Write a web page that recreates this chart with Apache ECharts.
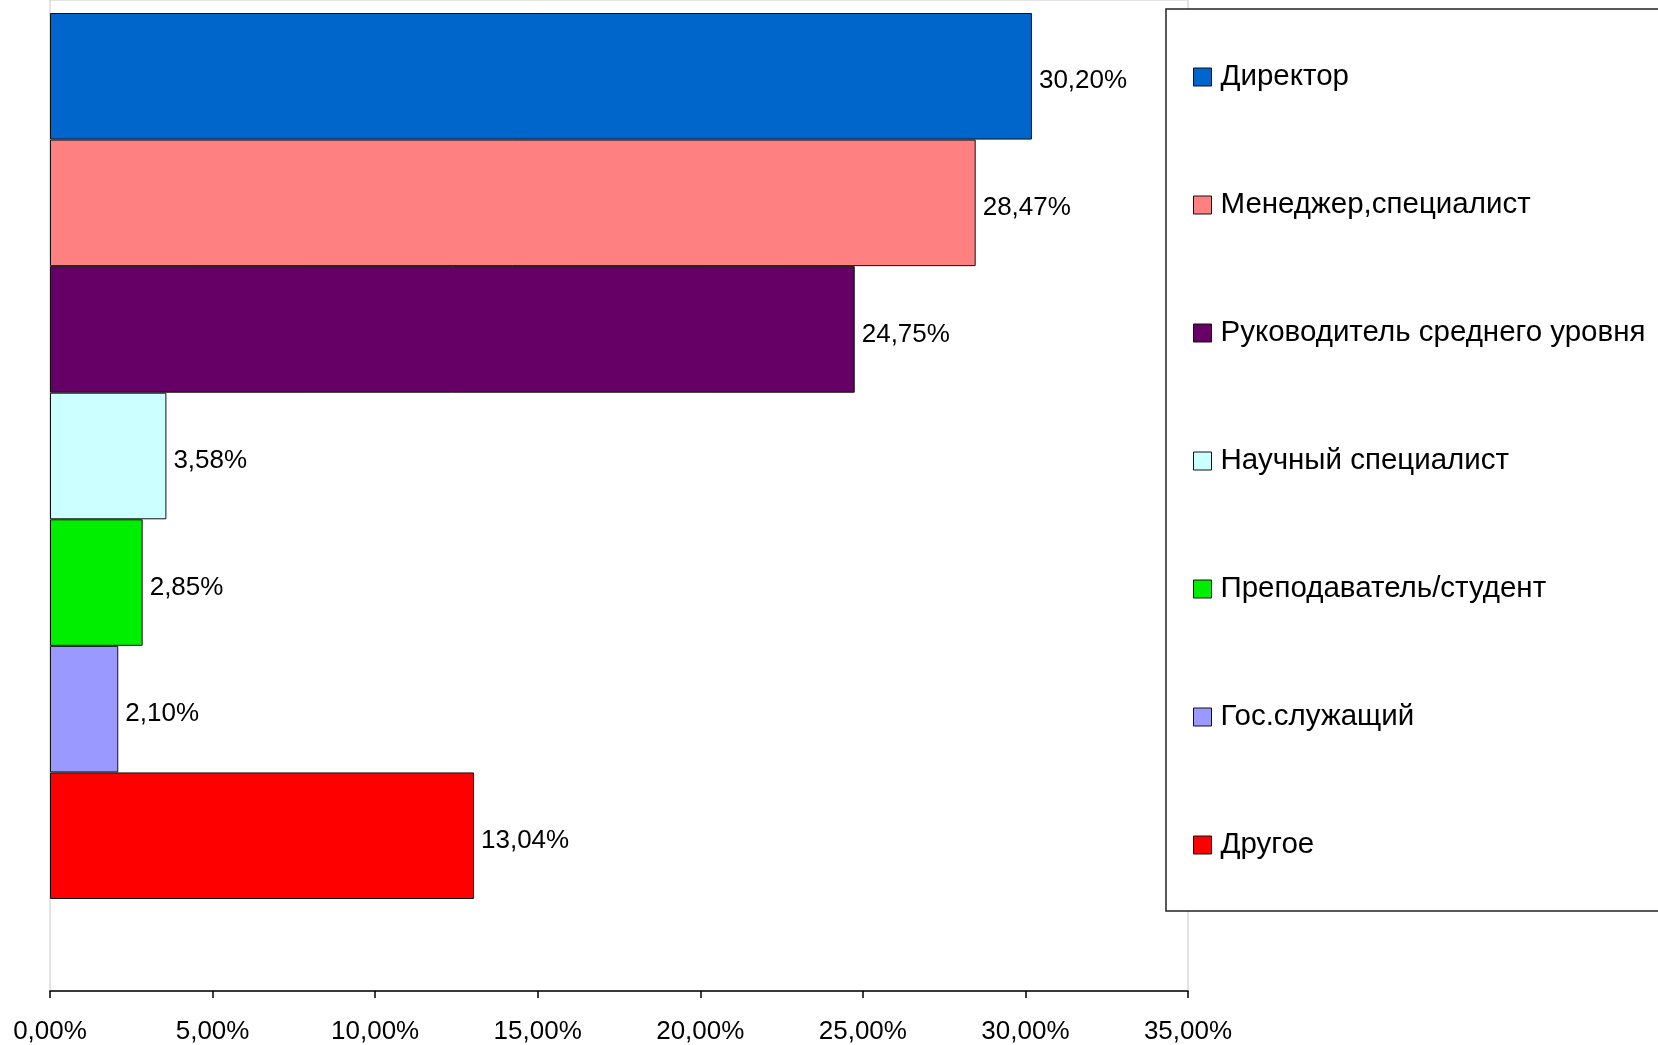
<!DOCTYPE html>
<html>
<head>
<meta charset="utf-8">
<script src="https://cdn.jsdelivr.net/npm/echarts@6/dist/echarts.min.js"></script>
<style>
  html, body { margin: 0; padding: 0; background: #fff; }
  #chart { width: 1658px; height: 1045px; }
</style>
</head>
<body>
<div id="chart"></div>
<script>
// категории (серии) и значения, %
var names = ['Директор', 'Менеджер,специалист', 'Руководитель среднего уровня',
  'Научный специалист', 'Преподаватель/студент', 'Гос.служащий', 'Другое'];
var values = [30.20, 28.47, 24.75, 3.58, 2.85, 2.10, 13.04];
var colors = ['#0066cc', '#ff8080', '#660066', '#ccffff', '#00ee00', '#9999ff', '#ff0000'];
var xMin = 0, xMax = 35, xStep = 5;

var FONT = 'Liberation Sans';

function pct(v) {
  return v.toFixed(2).replace('.', ',') + '%';
}

var series = [];
for (var i = 0; i < names.length; i++) {
  series.push({
    name: names[i],
    type: 'bar',
    xAxisIndex: 0,
    yAxisIndex: 0,
    data: [values[i]],
    barGap: '0%',
    barCategoryGap: '0%',
    itemStyle: {
      color: colors[i],
      borderColor: '#111',
      borderWidth: 1
    },
    label: {
      show: true,
      position: 'right',
      distance: 7,
      offset: [0, 5],
      color: '#000',
      fontFamily: FONT,
      fontSize: 26,
      formatter: function (p) { return pct(p.value); }
    }
  });
}

var chart = echarts.init(document.getElementById('chart'));
chart.setOption({
  animation: false,
  backgroundColor: '#fff',
  grid: [
    // полосы
    { left: 50, right: 470, top: 13, height: 886, containLabel: false },
    // рамка и ось X
    { left: 50, right: 470, top: 0, bottom: 48, show: true,
      borderColor: '#c8c8c8', borderWidth: 1, containLabel: false }
  ],
  legend: {
    orient: 'vertical',
    left: 1166,
    top: 9,
    data: names,
    backgroundColor: '#fff',
    borderColor: '#222',
    borderWidth: 1.5,
    borderRadius: 0,
    padding: [53, 60, 51, 27],
    itemWidth: 18,
    itemHeight: 18,
    itemGap: 98,
    icon: 'rect',
    itemStyle: { borderColor: '#111', borderWidth: 1 },
    textStyle: {
      fontFamily: FONT,
      fontSize: 29.5,
      lineHeight: 30,
      color: '#000',
      padding: [0, 0, 0, 4]
    }
  },
  xAxis: [
    {
      gridIndex: 0, type: 'value', min: xMin, max: xMax, interval: xStep,
      show: false
    },
    {
      gridIndex: 1, type: 'value', min: xMin, max: xMax, interval: xStep,
      splitLine: { show: false },
      axisLine: { show: true, lineStyle: { color: '#000', width: 1.5 } },
      axisTick: { show: true, length: 7, lineStyle: { color: '#000', width: 1.5 } },
      axisLabel: {
        margin: 28,
        color: '#000',
        fontFamily: FONT,
        fontSize: 26,
        formatter: function (v) { return pct(v); }
      }
    }
  ],
  yAxis: [
    {
      gridIndex: 0, type: 'category', inverse: true, data: [''],
      show: false
    },
    {
      gridIndex: 1, type: 'value', min: 0, max: 1,
      show: false
    }
  ],
  series: series
});
</script>
</body>
</html>
